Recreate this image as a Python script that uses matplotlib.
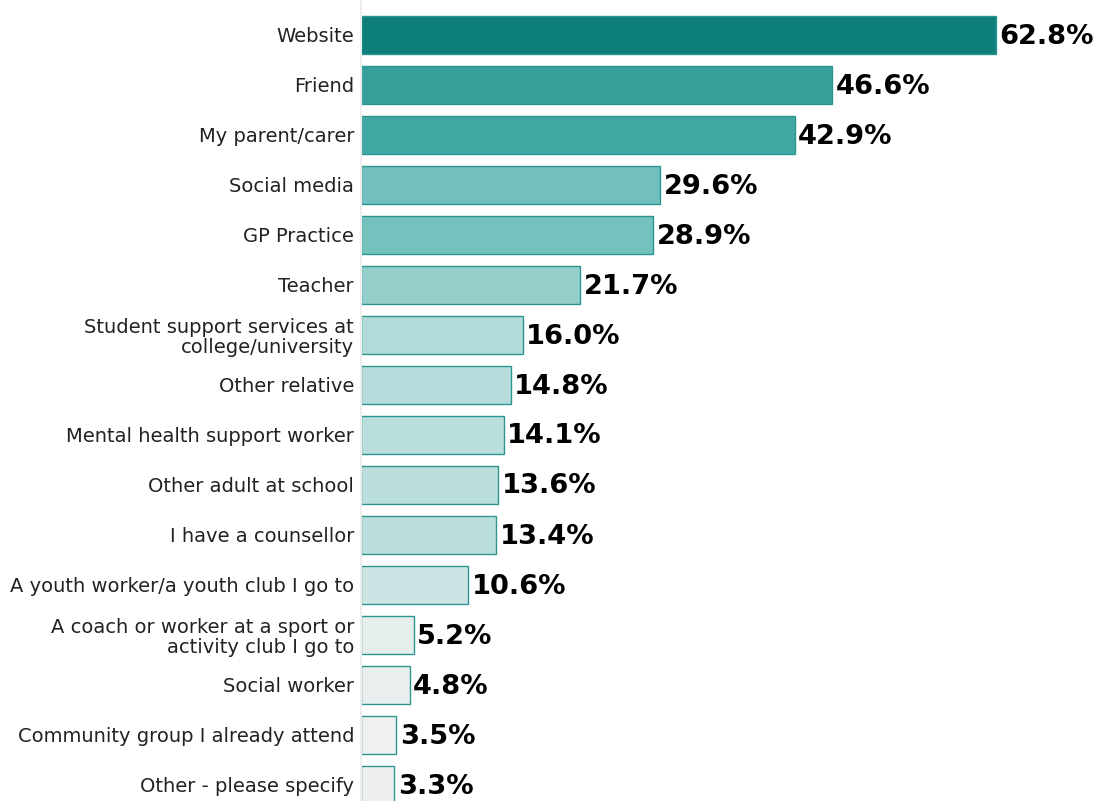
import os
import numpy as np
import matplotlib
matplotlib.use('Agg')
import matplotlib.pyplot as plt
from matplotlib import font_manager as fm

##------------data-----------------##
labels = ['Website', 'Friend', 'My parent/carer', 'Social media', 'GP Practice',
          'Teacher', 'Student support services at\ncollege/university', 'Other relative',
          'Mental health support worker', 'Other adult at school', 'I have a counsellor',
          'A youth worker/a youth club I go to',
          'A coach or worker at a sport or\nactivity club I go to', 'Social worker',
          'Community group I already attend', 'Other - please specify']
values = [62.8, 46.6, 42.9, 29.6, 28.9, 21.7, 16.0, 14.8, 14.1, 13.6, 13.4, 10.6,
          5.2, 4.8, 3.5, 3.3]
colours = ['#0f7f7b', '#37a09b', '#42a8a4', '#72bfbf', '#75c1bd', '#94cfcc',
           '#b0dbd8', '#b6dddb', '#b9dedc', '#bcdfdd', '#bcdfdd', '#cce5e4',
           '#e5eeed', '#e9efee', '#eef1f0', '#efefef']

##------------fonts-----------------##
fdir = os.path.join(matplotlib.get_data_path(), "fonts/ttf")
prop = fm.FontProperties(fname=os.path.join(fdir, "DejaVuSans.ttf"), size=14)
bprop = fm.FontProperties(fname=os.path.join(fdir, "DejaVuSans-Bold.ttf"), size=19.6)

##------------figure-----------------##
W, H = 1097, 801
fig = plt.figure(figsize=(W/100, H/100), dpi=100)
ax = fig.add_axes([361/W, 0, 1-361/W, 1])

y = np.arange(len(values))
ax.barh(y, values, height=0.76, color=colours, edgecolor='#2b9690', linewidth=1.0)

for yi, v in zip(y, values):
	ax.text(v + 0.35, yi + 0.03, '%.1f%%' % v, va='center', ha='left',
	        fontproperties=bprop, color='black')

ax.set_yticks(y)
ax.set_yticklabels(labels, fontproperties=prop, color='#222222', linespacing=1.05)
ax.tick_params(axis='y', length=0, pad=5)
ax.set_xticks([])
ax.set_xlim(0, (W-361)/10.11)
ax.set_ylim((H-35)/50, -35/50)

for s in ['top', 'right', 'bottom']:
	ax.spines[s].set_visible(False)
ax.spines['left'].set_color('#eeeeee')
ax.spines['left'].set_linewidth(1.5)

fig.savefig('out.png', dpi=100)
